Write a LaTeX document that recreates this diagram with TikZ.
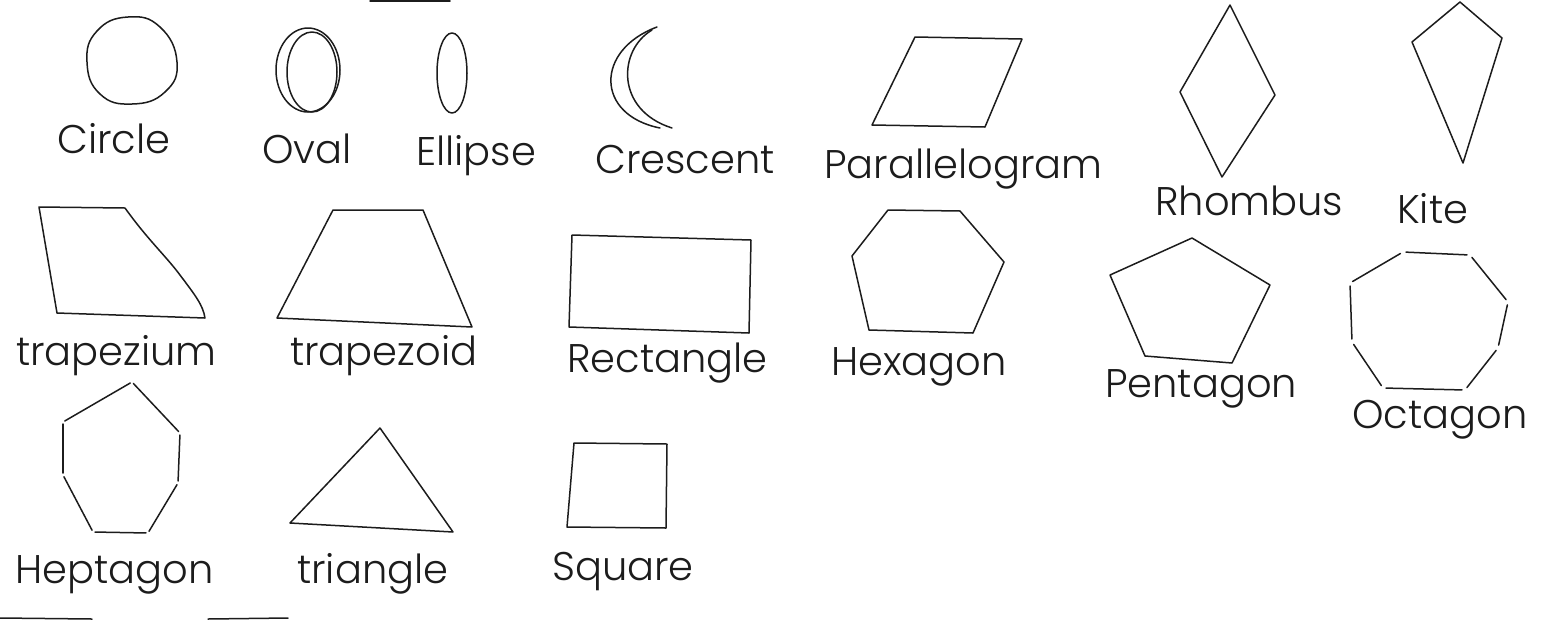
\documentclass[tikz,border=0pt]{standalone}
\usepackage{fontspec}
\setmainfont{Poppins}[UprightFont=* Light]
\definecolor{ink}{HTML}{1C1C1C}
\begin{document}
\begin{tikzpicture}[x=1pt,y=-1pt,
  pen/.style={line width=1.5pt, draw=ink, line join=round, line cap=round},
  lab/.style={anchor=base west, inner sep=0pt, font=\fontsize{40}{42}\selectfont, text=ink}]
\useasboundingbox (0,0) rectangle (1543,625);
\fill[white] (0,0) rectangle (1543,625);
% row 1
\draw[pen] plot[smooth cycle, tension=0.8] coordinates {(177,62) (165,92) (132,104) (100,94) (87,62) (97,31) (128,17) (160,27)};
\draw[pen] (308,70) ellipse [x radius=32, y radius=42];
\draw[pen] (312,72) ellipse [x radius=25, y radius=40];
\draw[pen] (452,73) ellipse [x radius=15, y radius=40];
\draw[pen] (657,27) .. controls (595,50) and (595,115) .. (660,128);
\draw[pen] (652,30) .. controls (618,50) and (615,110) .. (672,128);
\draw[pen] (915,37) -- (1022,39) -- (985,127) -- (872,125) -- cycle;
\draw[pen] (1230,5) -- (1275,95) -- (1222,177) -- (1180,92) -- cycle;
\draw[pen] (1460,2) -- (1502,38) -- (1463,163) -- (1412,42) -- cycle;
\node[lab] (lcircle) at (57,153) {Circle};
\node[lab] (loval) at (262,163) {Oval};
\node[lab] (lellipse) at (416,165) {Ellipse};
\node[lab] (lcrescent) at (595,173) {Crescent};
\node[lab] (lpara) at (824,178) {Parallelogram};
\node[lab] (lrhombus) at (1155,215) {Rhombus};
\node[lab] (lkite) at (1397,223) {Kite};
% row 2
\draw[pen] (39,207) -- (125,208) .. controls (148,240) and (165,255) .. (180,275) .. controls (195,295) and (203,305) .. (205,318) -- (57,313) -- cycle;
\draw[pen] (333,210) -- (423,210) -- (472,327) -- (277,318) -- cycle;
\draw[pen] (572,235) -- (751,240) -- (749,333) -- (569,327) -- cycle;
\draw[pen] (888,210) -- (960,211) -- (1004,262) -- (973,333) -- (869,330) -- (852,256) -- cycle;
\draw[pen] (1192,238) -- (1270,285) -- (1232,363) -- (1145,356) -- (1110,275) -- cycle;
\foreach \a/\b in {{(1403,252)}/{(1470,255)}, {(1470,255)}/{(1508,302)}, {(1508,302)}/{(1498,348)}, {(1498,348)}/{(1465,390)}, {(1465,390)}/{(1383,388)}, {(1383,388)}/{(1352,342)}, {(1352,342)}/{(1350,283)}, {(1350,283)}/{(1403,252)}}
  \draw[pen, shorten <=3pt, shorten >=3pt] \a -- \b;
\node[lab] (ltrapezium) at (16,365) {trapezium};
\node[lab] (ltrapezoid) at (290,365) {trapezoid};
\node[lab] (lrect) at (567,372) {Rectangle};
\node[lab] (lhex) at (831,375) {Hexagon};
\node[lab] (lpent) at (1105,397) {Pentagon};
\node[lab] (loct) at (1352,428) {Octagon};
% row 3
\foreach \a/\b in {{(132,382)}/{(180,433)}, {(180,433)}/{(178,483)}, {(178,483)}/{(148,533)}, {(148,533)}/{(93,532)}, {(93,532)}/{(63,475)}, {(63,475)}/{(63,422)}, {(63,422)}/{(132,382)}}
  \draw[pen, shorten <=2pt, shorten >=2pt] \a -- \b;
\draw[pen] (380,428) -- (453,532) -- (290,523) -- cycle;
\draw[pen] (574,443) -- (667,444) -- (666,528) -- (567,527) -- cycle;
\node[lab] (lhept) at (15,583) {Heptagon};
\node[lab] (ltri) at (297,583) {triangle};
\node[lab] (lsquare) at (552,580) {Square};
% scan edge strokes
\draw[pen] (370,1) -- (450,1);
\draw[pen] (0,618) -- (92,619);
\draw[pen] (208,619) -- (288,618);
\end{tikzpicture}
\end{document}
